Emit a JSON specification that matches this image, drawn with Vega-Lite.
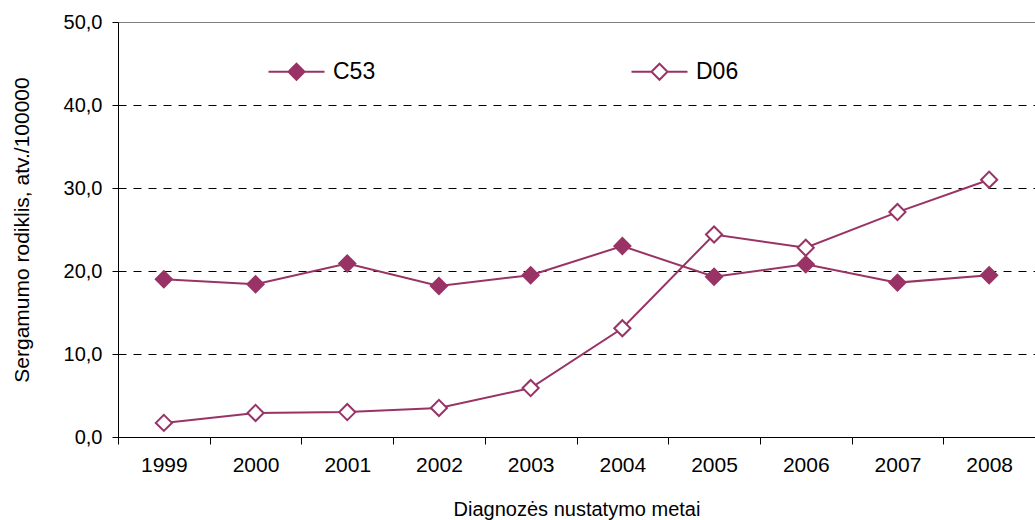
{
  "$schema": "https://vega.github.io/schema/vega-lite/v6.json",
  "width": 917,
  "height": 415,
  "autosize": {"type": "none"},
  "padding": {"left": 118, "top": 22, "right": 0, "bottom": 83},
  "background": "white",
  "config": {
    "font": "Liberation Sans",
    "view": {"stroke": null},
    "axis": {
      "labelColor": "black",
      "titleColor": "black",
      "titleFontWeight": "normal",
      "domainColor": "black",
      "tickColor": "black",
      "labelFont": "Liberation Sans",
      "titleFont": "Liberation Sans"
    }
  },
  "data": {
    "values": [
      {"year": "1999", "series": "C53", "value": 19.0},
      {"year": "2000", "series": "C53", "value": 18.4},
      {"year": "2001", "series": "C53", "value": 20.9},
      {"year": "2002", "series": "C53", "value": 18.2},
      {"year": "2003", "series": "C53", "value": 19.5},
      {"year": "2004", "series": "C53", "value": 23.0},
      {"year": "2005", "series": "C53", "value": 19.3},
      {"year": "2006", "series": "C53", "value": 20.8},
      {"year": "2007", "series": "C53", "value": 18.6},
      {"year": "2008", "series": "C53", "value": 19.5},
      {"year": "1999", "series": "D06", "value": 1.7},
      {"year": "2000", "series": "D06", "value": 2.9},
      {"year": "2001", "series": "D06", "value": 3.0},
      {"year": "2002", "series": "D06", "value": 3.5},
      {"year": "2003", "series": "D06", "value": 5.9},
      {"year": "2004", "series": "D06", "value": 13.1},
      {"year": "2005", "series": "D06", "value": 24.4},
      {"year": "2006", "series": "D06", "value": 22.8},
      {"year": "2007", "series": "D06", "value": 27.1},
      {"year": "2008", "series": "D06", "value": 31.0}
    ]
  },
  "encoding": {
    "x": {
      "field": "year",
      "type": "ordinal",
      "scale": {"type": "band", "paddingInner": 0, "paddingOuter": 0},
      "axis": {
        "title": "Diagnozės nustatymo metai",
        "labelAngle": 0,
        "tickBand": "extent",
        "tickSize": 7,
        "labelFontSize": 21,
        "labelPadding": 10,
        "titleFontSize": 20,
        "titlePadding": 24,
        "grid": false
      }
    },
    "y": {
      "field": "value",
      "type": "quantitative",
      "scale": {"domain": [0, 50], "nice": false},
      "axis": {
        "title": "Sergamumo rodiklis, atv./100000",
        "values": [0, 10, 20, 30, 40, 50],
        "labelExpr": "replace(format(datum.value, '.1f'), '.', ',')",
        "labelFontSize": 20,
        "labelPadding": 10,
        "tickSize": 6,
        "titleFontSize": 21,
        "titlePadding": 31,
        "grid": true,
        "gridColor": {"condition": {"test": "datum.value == 50", "value": "#808080"}, "value": "black"},
        "gridDash": {"condition": {"test": "datum.value == 50", "value": []}, "value": [8, 7]},
        "gridWidth": 1
      }
    }
  },
  "layer": [
    {
      "mark": {"type": "line", "color": "#993366", "strokeWidth": 2},
      "encoding": {"detail": {"field": "series"}}
    },
    {
      "mark": {"type": "point", "shape": "diamond", "size": 260, "strokeWidth": 2, "stroke": "#993366", "opacity": 1, "filled": true},
      "encoding": {
        "fill": {
          "field": "series",
          "type": "nominal",
          "scale": {"domain": ["C53", "D06"], "range": ["#993366", "#ffffff"]},
          "legend": {
            "title": null,
            "orient": "none",
            "legendX": 167,
            "legendY": 38,
            "direction": "horizontal",
            "columns": 2,
            "padding": 0,
            "symbolType": "M-3.5,0H-1M1,0H3.5M0,-1L1,0L0,1L-1,0Z",
            "symbolSize": 256,
            "symbolStrokeColor": "#993366",
            "symbolStrokeWidth": 2,
            "symbolOpacity": 1,
            "labelFontSize": 23,
            "labelColor": "black",
            "labelOffset": 25,
            "columnPadding": 251
          }
        }
      }
    }
  ]
}
